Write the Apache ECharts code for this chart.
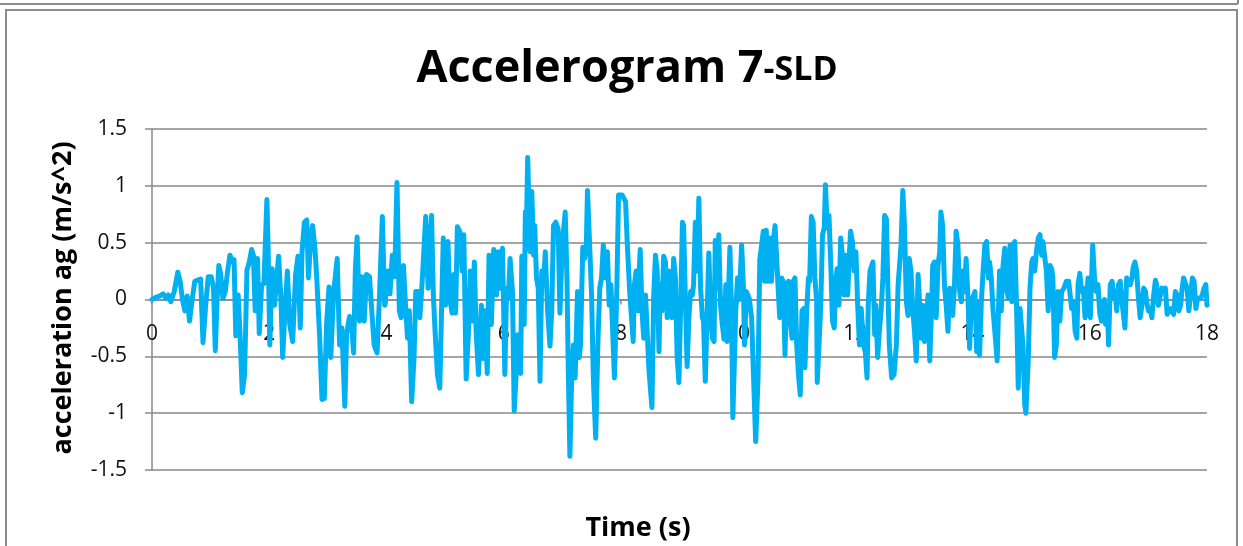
<!DOCTYPE html>
<html>
<head>
<meta charset="utf-8">
<script src="https://cdn.jsdelivr.net/npm/echarts@6/dist/echarts.min.js"></script>
<style>
  html, body { margin: 0; padding: 0; background: #ffffff; }
  #chart { width: 1243px; height: 546px; }
</style>
</head>
<body>
<div id="chart"></div>
<script>
// Ground acceleration record, [time s, acceleration m/s^2], split into 2-second stretches
const accel0to2 = [[0,0],[0.07,0.02],[0.13,0.03],[0.19,0.05],[0.24,0.01],[0.28,0.04],[0.32,-0.02],[0.38,0.07],[0.44,0.24],[0.48,0.16],[0.52,0],[0.56,-0.1],[0.6,0.03],[0.64,-0.19],[0.68,-0.02],[0.73,0.16],[0.78,0.17],[0.83,0.18],[0.87,-0.38],[0.92,-0.02],[0.96,0.2],[1.01,0.2],[1.05,0.1],[1.08,-0.45],[1.11,-0.02],[1.14,0.3],[1.17,0.23],[1.21,0.01],[1.25,0.07],[1.29,0.25],[1.33,0.39],[1.37,0.33],[1.4,0.35],[1.43,-0.32],[1.47,0.04],[1.5,-0.28],[1.54,-0.82],[1.58,-0.66],[1.62,0.26],[1.66,0.33],[1.7,0.44],[1.73,0.39],[1.76,-0.1],[1.8,0.36],[1.83,-0.3],[1.87,0.13],[1.91,0.14],[1.96,0.88],[1.98,0.48]];
const accel2to4 = [[2.01,-0.4],[2.05,0.27],[2.09,-0.05],[2.16,0.38],[2.2,0],[2.23,-0.51],[2.27,-0.08],[2.31,0.25],[2.35,-0.22],[2.4,-0.37],[2.45,0.22],[2.49,0.38],[2.53,-0.25],[2.56,0.42],[2.6,0.68],[2.64,0.7],[2.67,0.19],[2.71,0.55],[2.74,0.65],[2.78,0.45],[2.81,0.2],[2.86,-0.32],[2.9,-0.88],[2.94,-0.87],[2.98,-0.2],[3.02,0.11],[3.05,-0.51],[3.1,0.07],[3.16,0.36],[3.2,-0.4],[3.24,-0.25],[3.29,-0.94],[3.32,-0.3],[3.37,-0.15],[3.4,-0.2],[3.44,-0.47],[3.47,0.27],[3.5,0.55],[3.54,-0.19],[3.58,0.2],[3.62,-0.19],[3.66,0.22],[3.71,0.2],[3.75,-0.1],[3.79,-0.4],[3.84,-0.47],[3.88,0.01],[3.93,0.73],[3.97,-0.05]];
const accel4to6 = [[4.03,0.25],[4.06,0.05],[4.1,0.39],[4.14,0.2],[4.18,1.03],[4.22,-0.1],[4.25,-0.16],[4.29,0.3],[4.33,-0.1],[4.36,-0.34],[4.39,-0.1],[4.43,-0.9],[4.47,-0.52],[4.5,0.07],[4.54,0.07],[4.57,-0.16],[4.61,0.16],[4.67,0.73],[4.71,0.1],[4.77,0.74],[4.8,0.04],[4.83,-0.28],[4.87,-0.66],[4.91,-0.78],[4.94,-0.1],[4.97,0.54],[5.01,-0.05],[5.05,0.51],[5.08,0.01],[5.12,-0.12],[5.15,0.22],[5.18,-0.12],[5.21,0.64],[5.25,0.6],[5.29,0.25],[5.32,0.57],[5.36,-0.7],[5.4,-0.28],[5.43,0.25],[5.47,-0.19],[5.5,0.33],[5.53,-0.28],[5.57,-0.66],[5.62,-0.05],[5.65,-0.52],[5.68,-0.1],[5.72,-0.65],[5.75,0.39],[5.79,-0.22],[5.83,0.44],[5.88,0.04],[5.91,0.42],[5.94,0.1],[5.98,0.45]];
const accel6to8 = [[6.02,-0.66],[6.05,0.1],[6.08,0.01],[6.11,0.36],[6.15,0.07],[6.18,-0.98],[6.21,-0.69],[6.24,-0.31],[6.27,-0.63],[6.29,-0.65],[6.31,0.38],[6.35,-0.22],[6.37,0.77],[6.39,0.68],[6.41,1.25],[6.45,0.42],[6.48,0.95],[6.51,0.39],[6.53,0.65],[6.56,0.19],[6.59,0.1],[6.62,-0.72],[6.65,0.25],[6.68,0.13],[6.71,0.42],[6.75,-0.1],[6.79,-0.41],[6.82,-0.1],[6.85,0.65],[6.89,0.68],[6.93,0.62],[6.96,-0.12],[7,0.48],[7.05,0.77],[7.08,0.19],[7.1,-0.54],[7.13,-1.38],[7.16,-0.69],[7.19,-0.4],[7.22,-0.69],[7.26,0.07],[7.29,-0.51],[7.31,-0.4],[7.35,0.46],[7.38,0.36],[7.41,0.48],[7.43,0.96],[7.46,0.97],[7.5,0.04],[7.53,-0.69],[7.57,-1.22],[7.61,-0.34],[7.64,0.1],[7.67,0.19],[7.7,0.48],[7.74,0.19],[7.77,0.42],[7.8,-0.05],[7.83,0.13],[7.86,-0.28],[7.89,-0.69],[7.93,0.07],[7.96,0.92]];
const accel8to10 = [[8.02,0.92],[8.08,0.86],[8.11,0.48],[8.15,0.07],[8.21,-0.37],[8.23,0.13],[8.26,0.25],[8.29,-0.1],[8.32,0.33],[8.33,0.44],[8.36,-0.1],[8.39,-0.34],[8.42,0.04],[8.45,0.04],[8.48,-0.63],[8.5,-0.63],[8.53,-0.95],[8.56,0.04],[8.59,0.39],[8.62,0.25],[8.65,-0.46],[8.67,0.13],[8.7,-0.1],[8.73,0.38],[8.76,0.33],[8.79,-0.16],[8.82,0.25],[8.84,-0.1],[8.87,-0.16],[8.9,0.36],[8.93,0.19],[8.96,-0.51],[8.99,-0.73],[9.02,-0.05],[9.05,0.68],[9.07,0.65],[9.1,0.01],[9.13,-0.59],[9.16,-0.16],[9.19,0.07],[9.22,0.04],[9.24,0.13],[9.27,0.68],[9.3,0.25],[9.33,0.89],[9.36,0.1],[9.39,-0.16],[9.41,-0.19],[9.44,-0.72],[9.47,-0.16],[9.5,0.41],[9.53,-0.1],[9.56,-0.34],[9.59,-0.37],[9.61,0.52],[9.64,0.1],[9.67,0.57],[9.7,-0.05],[9.73,-0.22],[9.76,-0.35],[9.79,0.13],[9.81,-0.37],[9.86,0.46],[9.89,-0.16],[9.91,-1.04],[9.96,-0.1],[9.99,0.19]];
const accel10to12 = [[10.02,0],[10.06,0.48],[10.09,0.13],[10.11,-0.4],[10.14,0.07],[10.19,0.01],[10.23,-0.16],[10.26,-0.16],[10.3,-1.25],[10.34,-0.69],[10.37,0.35],[10.4,0.35],[10.43,0.6],[10.45,0.16],[10.48,0.61],[10.51,0.16],[10.54,0.54],[10.57,0.16],[10.6,0.51],[10.63,0.65],[10.66,0.65],[10.68,0.13],[10.71,-0.16],[10.74,0.19],[10.77,0.16],[10.8,-0.49],[10.83,0.13],[10.86,0.16],[10.89,-0.19],[10.92,-0.34],[10.94,0.16],[10.97,0.19],[11,-0.4],[11.03,-0.66],[11.06,-0.84],[11.09,-0.1],[11.12,-0.08],[11.14,-0.6],[11.17,-0.1],[11.2,0.19],[11.22,0.16],[11.25,0.73],[11.28,0.68],[11.31,0.19],[11.34,-0.02],[11.35,-0.73],[11.38,-0.4],[11.41,-0.05],[11.44,0.57],[11.47,0.63],[11.49,1.01],[11.52,0.63],[11.55,0.74],[11.58,0.33],[11.61,-0.19],[11.64,-0.25],[11.67,0.19],[11.69,0.27],[11.72,-0.05],[11.75,0.54],[11.78,0.39],[11.81,0.04],[11.84,0.39],[11.87,0.04],[11.9,0.42],[11.92,0.6],[11.95,0.51],[11.98,0.25]];
const accel12to14 = [[12.01,0.42],[12.04,-0.05],[12.07,-0.4],[12.1,-0.08],[12.14,-0.4],[12.17,-0.46],[12.2,-0.69],[12.22,-0.05],[12.25,0.25],[12.3,0.33],[12.33,-0.31],[12.35,-0.05],[12.38,-0.51],[12.41,-0.28],[12.44,-0.1],[12.47,0.19],[12.5,0.74],[12.53,0.71],[12.55,0.22],[12.58,-0.4],[12.62,-0.69],[12.66,-0.66],[12.7,-0.4],[12.73,0.13],[12.75,0.13],[12.78,0.48],[12.81,0.96],[12.84,0.63],[12.87,-0.02],[12.9,-0.14],[12.92,0.36],[12.95,0.25],[12.98,-0.1],[13.01,-0.28],[13.04,-0.54],[13.07,0.22],[13.09,0.04],[13.12,-0.34],[13.15,-0.05],[13.18,-0.37],[13.21,-0.22],[13.24,0.04],[13.27,-0.54],[13.3,-0.1],[13.32,0.3],[13.35,0.33],[13.38,-0.16],[13.41,0.3],[13.44,0.42],[13.46,0.77],[13.49,0.65],[13.52,0.13],[13.55,-0.05],[13.58,-0.28],[13.61,0.1],[13.64,0.07],[13.66,-0.14],[13.69,0.1],[13.72,0.6],[13.75,0.48],[13.78,0.07],[13.81,-0.02],[13.84,0.25],[13.86,0.07],[13.89,0.36],[13.92,0.04],[13.95,-0.43],[13.98,-0.02]];
const accel14to16 = [[14.04,0.07],[14.07,-0.46],[14.1,-0.02],[14.12,-0.49],[14.15,-0.02],[14.18,0.25],[14.21,0.48],[14.24,0.51],[14.27,0.19],[14.29,0.33],[14.32,0.19],[14.35,-0.1],[14.38,-0.28],[14.42,-0.54],[14.46,0.25],[14.49,-0.1],[14.52,0.3],[14.55,0.45],[14.58,0.1],[14.61,0.01],[14.64,0.48],[14.67,-0.02],[14.69,0.48],[14.72,0.51],[14.75,-0.05],[14.78,-0.78],[14.81,-0.08],[14.83,-0.08],[14.86,-0.4],[14.89,-0.92],[14.91,-1],[14.95,-0.54],[14.98,0.1],[15.01,0.33],[15.03,0.36],[15.06,0.25],[15.09,0.42],[15.12,0.54],[15.15,0.57],[15.18,0.39],[15.2,0.51],[15.23,0.51],[15.26,0.25],[15.29,-0.1],[15.32,0.3],[15.35,0.27],[15.37,0.19],[15.4,-0.51],[15.43,-0.4],[15.46,0.07],[15.49,-0.19],[15.52,0.07],[15.56,0.1],[15.6,0.16],[15.64,0.16],[15.69,-0.08],[15.72,-0.02],[15.75,-0.28],[15.78,-0.34],[15.8,0.13],[15.83,0.23],[15.86,0.07],[15.89,0.1],[15.92,-0.16],[15.94,-0.05],[15.97,0.19]];
const accel16to18 = [[16.01,-0.16],[16.05,0.48],[16.08,0.19],[16.11,0.07],[16.14,0.13],[16.17,-0.12],[16.2,-0.19],[16.22,-0.08],[16.25,0],[16.27,-0.22],[16.3,-0.05],[16.32,-0.4],[16.35,0.13],[16.38,0.16],[16.41,0.01],[16.43,0.07],[16.46,-0.1],[16.49,0.13],[16.52,0.16],[16.55,-0.02],[16.58,-0.16],[16.6,-0.25],[16.63,0.19],[16.66,0.2],[16.69,0.13],[16.72,0.19],[16.74,0.28],[16.77,0.33],[16.8,0.25],[16.83,0.01],[16.86,-0.16],[16.89,-0.05],[16.92,0.1],[16.95,0.07],[16.97,-0.02],[17,-0.1],[17.03,-0.08],[17.06,-0.16],[17.09,0.04],[17.12,0.17],[17.14,0.13],[17.17,-0.05],[17.2,-0.05],[17.23,0.1],[17.26,0.07],[17.29,0.1],[17.32,-0.13],[17.34,-0.13],[17.37,-0.08],[17.4,-0.08],[17.43,-0.13],[17.46,0.07],[17.49,0.04],[17.52,-0.1],[17.55,-0.05],[17.57,0.07],[17.6,0.19],[17.63,0.19],[17.66,0.1],[17.69,-0.1],[17.72,0.04],[17.75,0.19],[17.78,0.16],[17.81,-0.08],[17.84,0.01],[17.87,0.01],[17.89,0.01],[17.92,0.04],[17.95,0.1],[17.98,0.13],[18,-0.05]];

// Axis ranges and texts
const timeRange = { min: 0, max: 18, step: 2 };
const accelRange = { min: -1.5, max: 1.5, step: 0.5 };
const chartTitle = 'Accelerogram 7';
const chartSubtitle = '-SLD';
const xAxisTitle = 'Time (s)';
const yAxisTitle = 'acceleration ag (m/s^2)';

const record = [].concat(accel0to2, accel2to4, accel4to6, accel6to8, accel8to10,
  accel10to12, accel12to14, accel14to16, accel16to18);

const FONT = "'Open Sans', 'Liberation Sans', sans-serif";
const GRID_GRAY = '#898989';
const FRAME_GRAY = '#8c8c8c';

// plot box in pixels
const PLOT = { left: 152, right: 36, top: 129, bottom: 76 };
const plotHeight = 546 - PLOT.top - PLOT.bottom;
// the time axis crosses the acceleration axis at zero
const zeroShift = plotHeight * (0 - accelRange.min) / (accelRange.max - accelRange.min);

const chart = echarts.init(document.getElementById('chart'), null, { renderer: 'canvas' });

chart.setOption({
  backgroundColor: '#ffffff',
  animation: false,
  grid: {
    left: PLOT.left, right: PLOT.right, top: PLOT.top, bottom: PLOT.bottom,
    containLabel: false, outerBoundsMode: 'none'
  },
  xAxis: {
    type: 'value',
    position: 'bottom',
    offset: -zeroShift,
    min: timeRange.min, max: timeRange.max, interval: timeRange.step,
    axisLine: { show: true, onZero: false, lineStyle: { color: GRID_GRAY, width: 1.5 } },
    axisTick: { show: true, inside: false, length: 5, lineStyle: { color: GRID_GRAY, width: 1.5 } },
    axisLabel: {
      show: true, margin: 24, color: '#111111', fontSize: 21, fontFamily: FONT,
      showMinLabel: true, showMaxLabel: true, hideOverlap: false
    },
    splitLine: { show: false }
  },
  yAxis: {
    type: 'value',
    min: accelRange.min, max: accelRange.max, interval: accelRange.step,
    axisLine: { show: true, onZero: false, lineStyle: { color: GRID_GRAY, width: 1.5 } },
    axisTick: { show: true, inside: false, length: 7, lineStyle: { color: GRID_GRAY, width: 1.5 } },
    axisLabel: {
      show: true, margin: 25, color: '#111111', fontSize: 21, fontFamily: FONT,
      showMinLabel: true, showMaxLabel: true, hideOverlap: false
    },
    splitLine: { show: true, lineStyle: { color: GRID_GRAY, width: 1.5 } }
  },
  series: [{
    type: 'line',
    data: record,
    showSymbol: false,
    symbol: 'none',
    smooth: false,
    clip: false,
    lineStyle: { color: '#00B0F0', width: 5, join: 'round', cap: 'round' },
    itemStyle: { color: '#00B0F0' },
    silent: true
  }],
  graphic: [
    // outer frame lines
    { type: 'line', shape: { x1: 0, y1: 4, x2: 1238, y2: 4 }, style: { stroke: FRAME_GRAY, lineWidth: 2 }, silent: true },
    { type: 'line', shape: { x1: 1238, y1: 0, x2: 1238, y2: 4 }, style: { stroke: FRAME_GRAY, lineWidth: 2 }, silent: true },
    { type: 'rect', shape: { x: 6, y: 10, width: 1231, height: 560 }, style: { fill: null, stroke: FRAME_GRAY, lineWidth: 2 }, silent: true },
    // chart title
    {
      type: 'text', x: 627, y: 69, silent: true,
      style: {
        text: '{a|' + chartTitle + '}{b|' + chartSubtitle + '}',
        align: 'center', verticalAlign: 'middle',
        rich: {
          a: { fontSize: 45, fontWeight: 'bold', fontFamily: FONT, fill: '#000000', color: '#000000' },
          b: { fontSize: 34, fontWeight: 'bold', fontFamily: FONT, fill: '#000000', color: '#000000', verticalAlign: 'bottom', padding: [0, 0, 4, 0] }
        }
      }
    },
    // axis titles
    {
      type: 'text', x: 638, y: 528, silent: true,
      style: { text: xAxisTitle, align: 'center', verticalAlign: 'middle', fontSize: 27, fontWeight: 'bold', fontFamily: FONT, fill: '#000000' }
    },
    {
      type: 'text', x: 63, y: 298, rotation: Math.PI / 2, silent: true,
      style: { text: yAxisTitle, align: 'center', verticalAlign: 'middle', fontSize: 27, fontWeight: 'bold', fontFamily: FONT, fill: '#000000' }
    }
  ]
});
</script>
</body>
</html>
